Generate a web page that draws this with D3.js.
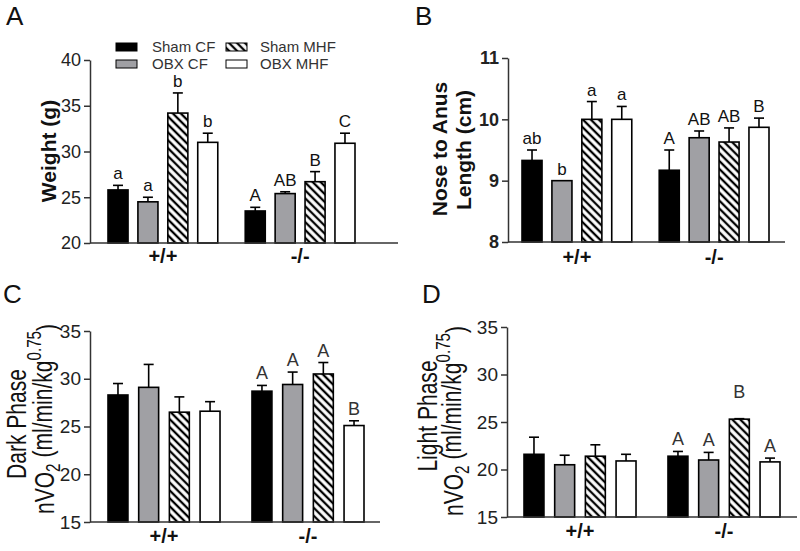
<!DOCTYPE html>
<html><head><meta charset="utf-8">
<script src="https://cdn.jsdelivr.net/npm/d3@7"></script>
<style>body{margin:0;background:#fff}svg{display:block;font-family:"Liberation Sans",Arial,sans-serif}</style>
</head><body><svg id="c" width="800" height="551"></svg>
<script>
// ---------- data ----------
const groups = ["+/+", "-/-"];
const seriesNames = ["Sham CF", "OBX CF", "Sham MHF", "OBX MHF"];

const weightTicks = [20, 25, 30, 35, 40];
const weightMean = [[25.8, 24.5, 34.2, 31.0], [23.5, 25.4, 26.7, 30.9]];
const weightErr  = [[0.5, 0.5, 2.2, 1.0], [0.4, 0.2, 1.1, 1.1]];
const weightLetters = [["a", "a", "b", "b"], ["A", "AB", "B", "C"]];

const lengthTicks = [8, 9, 10, 11];
const lengthMean = [[9.33, 9.0, 10.0, 10.0], [9.17, 9.7, 9.63, 9.87]];
const lengthErr  = [[0.17, 0, 0.29, 0.21], [0.33, 0.11, 0.23, 0.15]];
const lengthLetters = [["ab", "b", "a", "a"], ["A", "AB", "AB", "B"]];

const vo2Ticks = [15, 20, 25, 30, 35];
const darkMean = [[28.3, 29.1, 26.5, 26.6], [28.7, 29.4, 30.5, 25.1]];
const darkErr  = [[1.2, 2.4, 1.6, 1.0], [0.6, 1.3, 1.2, 0.5]];
const darkLetters = [["", "", "", ""], ["A", "A", "A", "B"]];

const lightMean = [[21.6, 20.5, 21.4, 20.9], [21.4, 21.0, 25.3, 20.8]];
const lightErr  = [[1.8, 1.0, 1.2, 0.7], [0.5, 0.8, 0.05, 0.4]];
const lightLetters = [["", "", "", ""], ["A", "A", "B", "A"]];
const lightLetterAt = [[null, null, null, null], [null, null, 26.9, null]];

// ---------- drawing ----------
const svg = d3.select("#c");
const defs = svg.append("defs");
const hp = defs.append("pattern").attr("id", "hatch").attr("patternUnits", "userSpaceOnUse")
  .attr("width", 5.6).attr("height", 5.6).attr("patternTransform", "rotate(-45)");
hp.append("rect").attr("width", 5.6).attr("height", 5.6).attr("fill", "#fff");
hp.append("line").attr("x1", 2.8).attr("x2", 2.8).attr("y1", 0).attr("y2", 5.6)
  .attr("stroke", "#000").attr("stroke-width", 2.3);

const fills = ["#000", "#a0a0a4", "url(#hatch)", "#fff"];
const FONT = '"Liberation Sans",Arial,sans-serif';

function panel(cfg) {
  const g = svg.append("g");
  const y = d3.scaleLinear().domain(cfg.domain).range(cfg.yRange);
  const xg = d3.scaleBand().domain(groups).range(cfg.barRange).paddingInner(cfg.groupPad);
  const xs = d3.scaleBand().domain(seriesNames).range([0, xg.bandwidth()]).paddingInner(cfg.seriesPad);
  const yb = cfg.yRange[0];

  groups.forEach((grp, gi) => {
    seriesNames.forEach((s, si) => {
      const m = cfg.mean[gi][si], e = cfg.err[gi][si];
      const bx = xg(grp) + xs(s), bw = xs.bandwidth(), cx = bx + bw / 2;
      if (e > 0) {
        g.append("line").attr("x1", cx).attr("x2", cx).attr("y1", y(m)).attr("y2", y(m + e))
          .attr("stroke", "#000").attr("stroke-width", 1.6);
        g.append("line").attr("x1", cx - 5).attr("x2", cx + 5).attr("y1", y(m + e)).attr("y2", y(m + e))
          .attr("stroke", "#000").attr("stroke-width", 1.6);
      }
      g.append("rect").attr("x", bx).attr("y", y(m)).attr("width", bw).attr("height", yb - y(m))
        .attr("fill", fills[si]).attr("stroke", "#000").attr("stroke-width", 1.6);
      const lt = cfg.letters[gi][si];
      if (lt) {
        const at = cfg.letterAt && cfg.letterAt[gi][si] != null ? y(cfg.letterAt[gi][si]) : y(m + e);
        g.append("text").attr("x", cx).attr("y", at - 6).attr("text-anchor", "middle")
          .attr("font-size", cfg.letterSize).attr("fill", cfg.letterColor).text(lt);
      }
    });
  });

  const ya = g.append("g").attr("transform", `translate(${cfg.x0},0)`)
    .call(d3.axisLeft(y).tickValues(cfg.ticks).tickSize(6).tickSizeOuter(0).tickPadding(3).tickFormat(d3.format("d")));
  ya.select(".domain").attr("stroke", "#333").attr("stroke-width", 1.5);
  ya.selectAll(".tick line").attr("stroke", "#333").attr("stroke-width", 1.5);
  ya.selectAll(".tick text").attr("font-family", FONT).attr("font-size", cfg.tickSize)
    .attr("font-weight", cfg.tickBold ? "bold" : "normal").attr("fill", "#222");

  const xa = g.append("g").attr("transform", `translate(0,${yb})`)
    .call(d3.axisBottom(xg).tickSize(0).tickPadding(cfg.catPad));
  xa.select(".domain").remove();
  xa.selectAll(".tick text").attr("font-family", FONT).attr("font-size", 20)
    .attr("font-weight", "bold").attr("fill", "#111");
  g.append("line").attr("x1", cfg.x0).attr("x2", cfg.x1).attr("y1", yb).attr("y2", yb)
    .attr("stroke", "#333").attr("stroke-width", 1.5);

  g.append("text").attr("x", cfg.label[1]).attr("y", cfg.label[2]).attr("font-size", 26)
    .attr("fill", "#111").text(cfg.label[0]);
  return g;
}

panel({domain: [20, 40], yRange: [243, 60], ticks: weightTicks, barRange: [108, 355], groupPad: 0.2,
  seriesPad: 0.33, x0: 90, x1: 398, mean: weightMean, err: weightErr, letters: weightLetters,
  letterSize: 17, letterColor: "#111", tickSize: 18, tickBold: false, catPad: 6, label: ["A", 6, 25]});
panel({domain: [8, 11], yRange: [242, 58], ticks: lengthTicks, barRange: [522, 769], groupPad: 0.2,
  seriesPad: 0.33, x0: 508, x1: 785, mean: lengthMean, err: lengthErr, letters: lengthLetters,
  letterSize: 17, letterColor: "#111", tickSize: 18, tickBold: true, catPad: 8, label: ["B", 415, 25]});
panel({domain: [15, 35], yRange: [522, 331], ticks: vo2Ticks, barRange: [108, 364], groupPad: 0.222,
  seriesPad: 0.35, x0: 90, x1: 380, mean: darkMean, err: darkErr, letters: darkLetters,
  letterSize: 18, letterColor: "#333", tickSize: 19, tickBold: false, catPad: 7, label: ["C", 3, 303]});
panel({domain: [15, 35], yRange: [517, 327], ticks: vo2Ticks, barRange: [524, 780], groupPad: 0.222,
  seriesPad: 0.35, x0: 507, x1: 797, mean: lightMean, err: lightErr, letters: lightLetters, letterAt: lightLetterAt,
  letterSize: 18, letterColor: "#333", tickSize: 19, tickBold: false, catPad: 7, label: ["D", 422, 303]});

function vtitle(x, y, size, weight, sx, build) {
  const t = svg.append("text").attr("transform", `translate(${x},${y}) rotate(-90) scale(${sx},1)`)
    .attr("text-anchor", "middle").attr("font-size", size).attr("font-weight", weight).attr("fill", "#111");
  build(t);
  return t;
}
vtitle(56, 151, 21, "bold", 1, t => t.text("Weight (g)"));
vtitle(447, 149, 21, "bold", 1, t => t.text("Nose to Anus"));
vtitle(471, 150, 21, "bold", 1, t => t.text("Length (cm)"));
function vo2(t) {
  t.append("tspan").text("nVO");
  t.append("tspan").attr("font-size", "0.72em").attr("dy", "0.3em").text("2");
  t.append("tspan").attr("dy", "-0.3em").text(" (ml/min/kg");
  t.append("tspan").attr("font-size", "0.72em").attr("dy", "-0.55em").text("0.75");
  t.append("tspan").attr("dy", "0.55em").text(")");
}
vtitle(26, 424, 27, "normal", 0.78, t => t.text("Dark Phase"));
vtitle(54, 419, 27, "normal", 0.78, vo2);
vtitle(437, 416, 27, "normal", 0.78, t => t.text("Light Phase"));
vtitle(463, 421, 27, "normal", 0.78, vo2);

// legend (panel A)
const lg = svg.append("g");
seriesNames.forEach((s, i) => {
  const c = i < 2 ? 0 : 1, r = i % 2;
  const bx = c === 0 ? 116 : 226, tx = c === 0 ? 152 : 260;
  const by = r === 0 ? 43 : 60;
  lg.append("rect").attr("x", bx).attr("y", by).attr("width", 21).attr("height", 8)
    .attr("fill", fills[i]).attr("stroke", "#000").attr("stroke-width", 1);
  lg.append("text").attr("x", tx).attr("y", by + 8.5).attr("font-size", 15).attr("fill", "#333").text(s);
});
</script></body></html>
